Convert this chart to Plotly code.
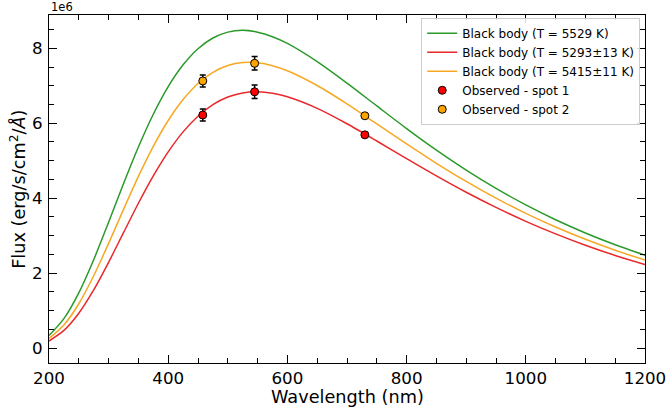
import plotly.graph_objects as go

# Wavelength grid (nm) for the black-body curves
wl = [200, 225, 250, 275, 300, 325, 350, 375, 400, 425, 450, 475, 500, 525, 550,
      575, 600, 650, 700, 750, 800, 850, 900, 950, 1000, 1050, 1100, 1150, 1200]

# Flux values (x1e6 erg/s/cm^2/Å)
bb_green = [0.333, 0.785, 1.474, 2.357, 3.357, 4.386, 5.366, 6.241, 6.978, 7.560,
            7.990, 8.276, 8.433, 8.480, 8.432, 8.311, 8.131, 7.646, 7.071, 6.462,
            5.858, 5.283, 4.750, 4.261, 3.820, 3.424, 3.071, 2.756, 2.476]
bb_red = [0.187, 0.470, 0.930, 1.551, 2.288, 3.079, 3.864, 4.594, 5.235, 5.770,
          6.188, 6.497, 6.700, 6.809, 6.839, 6.800, 6.706, 6.398, 5.987, 5.527,
          5.055, 4.595, 4.158, 3.754, 3.382, 3.047, 2.743, 2.471, 2.229]
bb_orange = [0.253, 0.615, 1.182, 1.929, 2.793, 3.700, 4.582, 5.385, 6.074, 6.635,
             7.062, 7.360, 7.541, 7.621, 7.615, 7.537, 7.402, 7.008, 6.517, 5.983,
             5.448, 4.931, 4.447, 4.001, 3.595, 3.230, 2.902, 2.610, 2.349]

# Observed points
obs_wl = [458, 545, 730]
spot1 = [6.22, 6.84, 5.69]
spot1_err = [0.16, 0.18, 0.05]
spot2 = [7.13, 7.60, 6.20]
spot2_err = [0.16, 0.18, 0.05]

names = ["Black body (T = 5529 K)", "Black body (T = 5293±13 K)",
         "Black body (T = 5415±11 K)", "Observed - spot 1", "Observed - spot 2"]

x_ticks = [200, 400, 600, 800, 1000, 1200]
y_ticks = [0, 2, 4, 6, 8]
x_title = "Wavelength (nm)"
y_title = "Flux (erg/s/cm<sup>2</sup>/<i>Å</i>)"

FONT = "DejaVu Sans"

fig = go.Figure()
for ys, col, nm in [(bb_green, "#2a9a2a", names[0]),
                    (bb_red, "#e8282a", names[1]),
                    (bb_orange, "#f7a823", names[2])]:
    fig.add_trace(go.Scatter(x=wl, y=ys, mode="lines", name=nm,
                             line=dict(color=col, width=1.5, shape="spline", smoothing=0.8)))

for ys, err, fill, nm in [(spot1, spot1_err, "#ff0000", names[3]),
                          (spot2, spot2_err, "#ffa500", names[4])]:
    fig.add_trace(go.Scatter(
        x=obs_wl, y=ys, mode="markers", name=nm,
        marker=dict(color=fill, size=8, line=dict(color="black", width=1)),
        error_y=dict(type="data", array=err, visible=True, color="black",
                     thickness=1.5, width=3)))

axis_common = dict(
    showline=True, linecolor="black", linewidth=1, mirror="allticks",
    ticks="inside", ticklen=8, tickwidth=1, tickcolor="black",
    showgrid=False, zeroline=False, automargin=False,
    tickfont=dict(family=FONT, size=16.7, color="black"),
    tickmode="array", ticklabeloverflow="allow",
)

fig.update_xaxes(
    range=[200, 1200.001], tickvals=x_ticks, ticktext=[str(v) for v in x_ticks],
    minor=dict(dtick=50, tick0=200, ticks="inside", ticklen=5, tickcolor="black", showgrid=False),
    **axis_common)
fig.update_yaxes(
    range=[-0.4, 8.89], tickvals=y_ticks, ticktext=[str(v) for v in y_ticks],
    ticklabelstandoff=2,
    minor=dict(dtick=0.5, tick0=0, ticks="inside", ticklen=5, tickcolor="black", showgrid=False),
    **axis_common)

# axis titles as annotations for exact placement
fig.add_annotation(text=x_title, xref="paper", yref="paper", x=0.5, y=-0.098,
                   xanchor="center", yanchor="middle", showarrow=False,
                   font=dict(family=FONT, size=17.7, color="black"))
fig.add_annotation(text=y_title, xref="paper", yref="paper", x=-0.054, y=0.5,
                   xanchor="center", yanchor="middle", showarrow=False, textangle=-90,
                   font=dict(family=FONT, size=17.7, color="black"))

fig.add_annotation(text="1e6", xref="paper", yref="paper", x=0, y=1,
                   xanchor="left", yanchor="bottom", showarrow=False,
                   font=dict(family=FONT, size=11.5, color="black"), yshift=-1)

fig.update_layout(
    width=666, height=409,
    margin=dict(l=49, r=21, t=15, b=46),
    plot_bgcolor="white", paper_bgcolor="white",
    showlegend=True,
    legend=dict(x=0.992, y=0.992, xanchor="right", yanchor="top",
                bgcolor="rgba(255,255,255,0.85)", bordercolor="#cccccc", borderwidth=1,
                font=dict(family=FONT, size=12, color="black"),
                tracegroupgap=0),
)

fig.write_html("out.html")
